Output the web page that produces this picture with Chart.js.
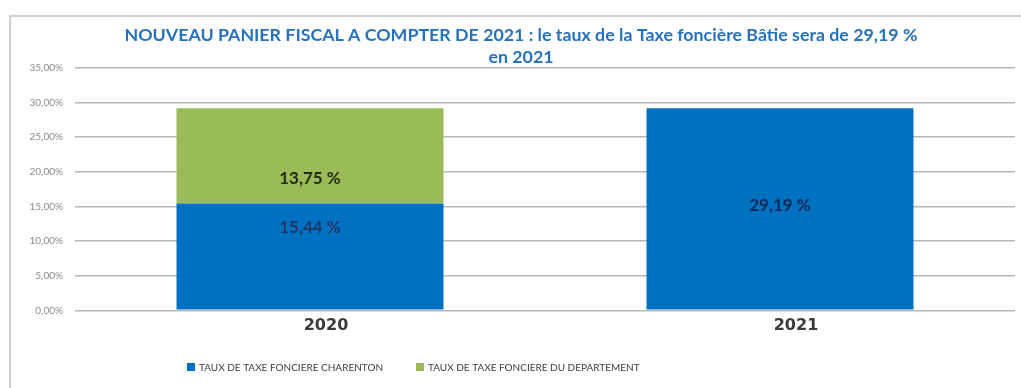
<!DOCTYPE html>
<html>
<head>
<meta charset="utf-8">
<script src="https://cdn.jsdelivr.net/npm/chart.js@4/dist/chart.umd.min.js"></script>
<style>
  html, body { margin: 0; padding: 0; background: #ffffff; }
  #wrap { width: 1021px; height: 388px; position: relative; }
</style>
</head>
<body>
<div id="wrap"><canvas id="chart"></canvas></div>
<script>
// Taux de taxe foncière bâtie (%)
const years = ['2020', '2021'];
const tauxCharenton = [15.44, 29.19];
const tauxDepartement = [13.75, null];
const seriesNames = ['TAUX DE TAXE FONCIERE CHARENTON', 'TAUX DE TAXE FONCIERE DU DEPARTEMENT'];
const yTicks = [0, 5, 10, 15, 20, 25, 30, 35];
const titleLines = [
  'NOUVEAU PANIER FISCAL A COMPTER DE 2021 : le taux de la Taxe foncière Bâtie sera de 29,19 %',
  'en 2021'
];

const BLUE = '#0070C0';
const GREEN = '#9BBB59';

const fmtPct = (v, sep) => v.toFixed(2).replace('.', ',') + sep + '%';

// White background and the thin frame around the whole chart
const framePlugin = {
  id: 'frame',
  beforeDraw(chart) {
    const ctx = chart.ctx;
    ctx.save();
    ctx.fillStyle = '#ffffff';
    ctx.fillRect(0, 0, chart.width, chart.height);
    ctx.strokeStyle = '#cfcfcf';
    ctx.lineWidth = 2;
    ctx.strokeRect(10, 16, chart.width + 20, chart.height + 20);
    ctx.restore();
  }
};

// Nudge the title block sideways
const titleShift = {
  id: 'titleShift',
  afterLayout(chart, args, opts) {
    const t = chart.titleBlock;
    if (t) { t.left += opts.dx; t.right += opts.dx; }
  }
};

// Values written inside each bar segment
const valueLabels = {
  id: 'valueLabels',
  afterDatasetsDraw(chart, args, opts) {
    const ctx = chart.ctx;
    ctx.save();
    ctx.textAlign = 'center';
    ctx.textBaseline = 'middle';
    ctx.font = opts.font;
    chart.data.datasets.forEach((ds, di) => {
      const meta = chart.getDatasetMeta(di);
      meta.data.forEach((bar, i) => {
        const v = ds.data[i];
        if (v === null || v === undefined) return;
        const props = bar.getProps(['x', 'y', 'base'], true);
        const dy = (opts.offsets[di] || [])[i] || 0;
        ctx.fillStyle = opts.colors[di][i];
        ctx.fillText(fmtPct(v, ' '), props.x, (props.y + props.base) / 2 + dy);
      });
    });
    ctx.restore();
  }
};

// Legend row under the axis
const legendRow = {
  id: 'legendRow',
  afterDraw(chart, args, opts) {
    const ctx = chart.ctx;
    ctx.save();
    ctx.font = opts.font;
    ctx.textBaseline = 'middle';
    ctx.textAlign = 'left';
    let x = opts.x;
    const y = opts.y;
    chart.data.datasets.forEach((ds) => {
      ctx.fillStyle = ds.backgroundColor;
      ctx.fillRect(x, y - opts.box / 2, opts.box, opts.box);
      x += opts.box + opts.textGap;
      ctx.fillStyle = opts.color;
      ctx.fillText(ds.label, x, y + 0.5);
      x += ctx.measureText(ds.label).width + opts.itemGap;
    });
    ctx.restore();
  }
};

new Chart(document.getElementById('chart'), {
  type: 'bar',
  data: {
    labels: years,
    datasets: [
      { label: seriesNames[0], data: tauxCharenton, backgroundColor: BLUE, borderWidth: 0 },
      { label: seriesNames[1], data: tauxDepartement, backgroundColor: GREEN, borderWidth: 0 }
    ]
  },
  options: {
    responsive: true,
    maintainAspectRatio: false,
    animation: false,
    layout: { padding: { top: 16, left: 10, right: 6, bottom: 46.5 } },
    datasets: {
      bar: { categoryPercentage: 1, barPercentage: 0.568 }
    },
    scales: {
      x: {
        stacked: true,
        grid: { display: false, drawTicks: false },
        border: { display: false },
        ticks: {
          color: '#3a3a3a',
          padding: 6,
          labelOffset: 16,
          font: { family: 'DejaVu Sans', size: 16, weight: 'bold' }
        }
      },
      y: {
        stacked: true,
        min: 0,
        max: 35,
        afterBuildTicks(scale) { scale.ticks = yTicks.map(v => ({ value: v })); },
        afterFit(scale) { scale.width = 65; },
        grid: { color: '#b8b8b8', lineWidth: 1.6, drawTicks: false },
        border: { display: false },
        ticks: {
          color: '#8a8a8a',
          padding: 12,
          font: { family: 'Lato', size: 10 },
          callback: (v) => fmtPct(v, '')
        }
      }
    },
    plugins: {
      legend: { display: false },
      tooltip: { enabled: false },
      title: {
        display: true,
        text: titleLines,
        color: '#2672BC',
        padding: { top: 8, bottom: 0 },
        font: { family: 'Lato', size: 17.8, weight: 'bold', lineHeight: 1.236 }
      },
      titleShift: { dx: 8.5 },
      valueLabels: {
        font: 'bold 17px Lato',
        colors: [['#1F3864', '#0D2A55'], ['#1E2A10', '#1E2A10']],
        offsets: [[-29, -3], [23, 0]]
      },
      legendRow: {
        x: 187, y: 367, box: 8, textGap: 4, itemGap: 33,
        color: '#404040',
        font: '10px Lato'
      }
    }
  },
  plugins: [framePlugin, titleShift, valueLabels, legendRow]
});
</script>
</body>
</html>
